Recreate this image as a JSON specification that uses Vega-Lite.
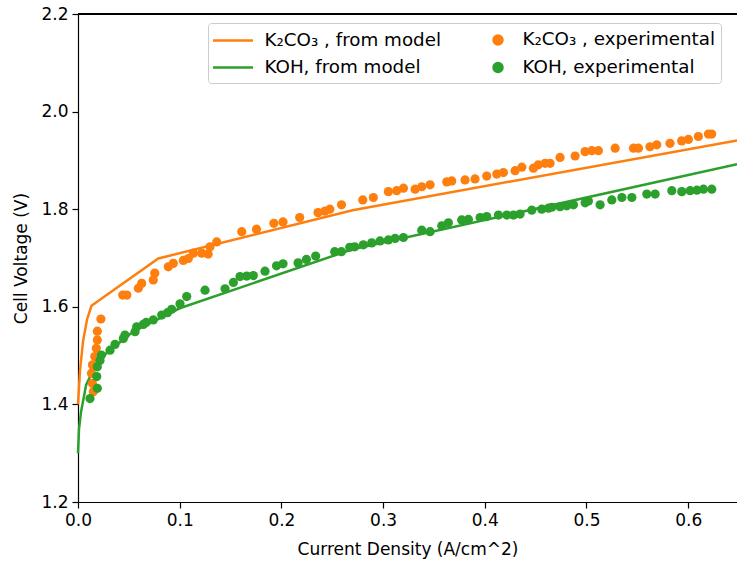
{
  "$schema": "https://vega.github.io/schema/vega-lite/v6.json",
  "width": 659,
  "height": 488,
  "autosize": {"type": "none"},
  "padding": {"left": 78, "top": 14, "right": 0, "bottom": 59},
  "background": "white",
  "config": {
    "font": "DejaVu Sans",
    "view": {"stroke": null},
    "axis": {
      "grid": false,
      "domainColor": "black",
      "domainWidth": 1.2,
      "tickColor": "black",
      "tickWidth": 1.2,
      "tickSize": 6,
      "labelFont": "DejaVu Sans",
      "labelFontSize": 17,
      "labelColor": "black",
      "labelPadding": 4,
      "labelFlush": false,
      "labelOverlap": false,
      "titleFont": "DejaVu Sans",
      "titleFontSize": 17,
      "titleFontWeight": "normal",
      "titleColor": "black"
    }
  },
  "data": {
    "values": [
      {"series": "K₂CO₃ , from model", "kind": "model", "x": 0.0, "y": 1.40},
      {"series": "K₂CO₃ , from model", "kind": "model", "x": 0.002, "y": 1.47},
      {"series": "K₂CO₃ , from model", "kind": "model", "x": 0.005, "y": 1.53},
      {"series": "K₂CO₃ , from model", "kind": "model", "x": 0.009, "y": 1.575},
      {"series": "K₂CO₃ , from model", "kind": "model", "x": 0.0132, "y": 1.602},
      {"series": "K₂CO₃ , from model", "kind": "model", "x": 0.079, "y": 1.699},
      {"series": "K₂CO₃ , from model", "kind": "model", "x": 0.27, "y": 1.798},
      {"series": "K₂CO₃ , from model", "kind": "model", "x": 0.648, "y": 1.941},
      {"series": "KOH, from model", "kind": "model", "x": 0.0, "y": 1.30},
      {"series": "KOH, from model", "kind": "model", "x": 0.001, "y": 1.35},
      {"series": "KOH, from model", "kind": "model", "x": 0.003, "y": 1.385},
      {"series": "KOH, from model", "kind": "model", "x": 0.008, "y": 1.44},
      {"series": "KOH, from model", "kind": "model", "x": 0.016, "y": 1.475},
      {"series": "KOH, from model", "kind": "model", "x": 0.028, "y": 1.505},
      {"series": "KOH, from model", "kind": "model", "x": 0.054, "y": 1.549},
      {"series": "KOH, from model", "kind": "model", "x": 0.1, "y": 1.597},
      {"series": "KOH, from model", "kind": "model", "x": 0.27, "y": 1.718},
      {"series": "KOH, from model", "kind": "model", "x": 0.648, "y": 1.892},

      {"series": "K₂CO₃ , experimental", "kind": "exp", "x": 0.0132, "y": 1.464},
      {"series": "K₂CO₃ , experimental", "kind": "exp", "x": 0.0142, "y": 1.481},
      {"series": "K₂CO₃ , experimental", "kind": "exp", "x": 0.0150, "y": 1.426},
      {"series": "K₂CO₃ , experimental", "kind": "exp", "x": 0.0142, "y": 1.443},
      {"series": "K₂CO₃ , experimental", "kind": "exp", "x": 0.0165, "y": 1.498},
      {"series": "K₂CO₃ , experimental", "kind": "exp", "x": 0.0180, "y": 1.515},
      {"series": "K₂CO₃ , experimental", "kind": "exp", "x": 0.0190, "y": 1.532},
      {"series": "K₂CO₃ , experimental", "kind": "exp", "x": 0.0190, "y": 1.550},
      {"series": "K₂CO₃ , experimental", "kind": "exp", "x": 0.0225, "y": 1.575},
      {"series": "K₂CO₃ , experimental", "kind": "exp", "x": 0.0440, "y": 1.624},
      {"series": "K₂CO₃ , experimental", "kind": "exp", "x": 0.0480, "y": 1.624},
      {"series": "K₂CO₃ , experimental", "kind": "exp", "x": 0.0593, "y": 1.638},
      {"series": "K₂CO₃ , experimental", "kind": "exp", "x": 0.0626, "y": 1.648},
      {"series": "K₂CO₃ , experimental", "kind": "exp", "x": 0.0740, "y": 1.655},
      {"series": "K₂CO₃ , experimental", "kind": "exp", "x": 0.0755, "y": 1.669},
      {"series": "K₂CO₃ , experimental", "kind": "exp", "x": 0.0888, "y": 1.682},
      {"series": "K₂CO₃ , experimental", "kind": "exp", "x": 0.0937, "y": 1.689},
      {"series": "K₂CO₃ , experimental", "kind": "exp", "x": 0.1036, "y": 1.695},
      {"series": "K₂CO₃ , experimental", "kind": "exp", "x": 0.1085, "y": 1.699},
      {"series": "K₂CO₃ , experimental", "kind": "exp", "x": 0.1134, "y": 1.710},
      {"series": "K₂CO₃ , experimental", "kind": "exp", "x": 0.1216, "y": 1.710},
      {"series": "K₂CO₃ , experimental", "kind": "exp", "x": 0.1280, "y": 1.708},
      {"series": "K₂CO₃ , experimental", "kind": "exp", "x": 0.1298, "y": 1.723},
      {"series": "K₂CO₃ , experimental", "kind": "exp", "x": 0.1364, "y": 1.733},
      {"series": "K₂CO₃ , experimental", "kind": "exp", "x": 0.1610, "y": 1.754},
      {"series": "K₂CO₃ , experimental", "kind": "exp", "x": 0.1755, "y": 1.759},
      {"series": "K₂CO₃ , experimental", "kind": "exp", "x": 0.1926, "y": 1.771},
      {"series": "K₂CO₃ , experimental", "kind": "exp", "x": 0.2016, "y": 1.774},
      {"series": "K₂CO₃ , experimental", "kind": "exp", "x": 0.2180, "y": 1.783},
      {"series": "K₂CO₃ , experimental", "kind": "exp", "x": 0.2360, "y": 1.793},
      {"series": "K₂CO₃ , experimental", "kind": "exp", "x": 0.2427, "y": 1.796},
      {"series": "K₂CO₃ , experimental", "kind": "exp", "x": 0.2476, "y": 1.800},
      {"series": "K₂CO₃ , experimental", "kind": "exp", "x": 0.2591, "y": 1.809},
      {"series": "K₂CO₃ , experimental", "kind": "exp", "x": 0.2800, "y": 1.819},
      {"series": "K₂CO₃ , experimental", "kind": "exp", "x": 0.2904, "y": 1.824},
      {"series": "K₂CO₃ , experimental", "kind": "exp", "x": 0.3052, "y": 1.836},
      {"series": "K₂CO₃ , experimental", "kind": "exp", "x": 0.3134, "y": 1.838},
      {"series": "K₂CO₃ , experimental", "kind": "exp", "x": 0.3200, "y": 1.843},
      {"series": "K₂CO₃ , experimental", "kind": "exp", "x": 0.3315, "y": 1.841},
      {"series": "K₂CO₃ , experimental", "kind": "exp", "x": 0.3380, "y": 1.846},
      {"series": "K₂CO₃ , experimental", "kind": "exp", "x": 0.3462, "y": 1.850},
      {"series": "K₂CO₃ , experimental", "kind": "exp", "x": 0.3626, "y": 1.856},
      {"series": "K₂CO₃ , experimental", "kind": "exp", "x": 0.3675, "y": 1.858},
      {"series": "K₂CO₃ , experimental", "kind": "exp", "x": 0.3806, "y": 1.860},
      {"series": "K₂CO₃ , experimental", "kind": "exp", "x": 0.3904, "y": 1.862},
      {"series": "K₂CO₃ , experimental", "kind": "exp", "x": 0.4019, "y": 1.868},
      {"series": "K₂CO₃ , experimental", "kind": "exp", "x": 0.4118, "y": 1.872},
      {"series": "K₂CO₃ , experimental", "kind": "exp", "x": 0.4183, "y": 1.875},
      {"series": "K₂CO₃ , experimental", "kind": "exp", "x": 0.4298, "y": 1.879},
      {"series": "K₂CO₃ , experimental", "kind": "exp", "x": 0.4364, "y": 1.886},
      {"series": "K₂CO₃ , experimental", "kind": "exp", "x": 0.4478, "y": 1.884},
      {"series": "K₂CO₃ , experimental", "kind": "exp", "x": 0.4527, "y": 1.891},
      {"series": "K₂CO₃ , experimental", "kind": "exp", "x": 0.4593, "y": 1.894},
      {"series": "K₂CO₃ , experimental", "kind": "exp", "x": 0.4642, "y": 1.894},
      {"series": "K₂CO₃ , experimental", "kind": "exp", "x": 0.4740, "y": 1.906},
      {"series": "K₂CO₃ , experimental", "kind": "exp", "x": 0.4888, "y": 1.909},
      {"series": "K₂CO₃ , experimental", "kind": "exp", "x": 0.4986, "y": 1.918},
      {"series": "K₂CO₃ , experimental", "kind": "exp", "x": 0.5052, "y": 1.920},
      {"series": "K₂CO₃ , experimental", "kind": "exp", "x": 0.5117, "y": 1.920},
      {"series": "K₂CO₃ , experimental", "kind": "exp", "x": 0.5282, "y": 1.925},
      {"series": "K₂CO₃ , experimental", "kind": "exp", "x": 0.5462, "y": 1.925},
      {"series": "K₂CO₃ , experimental", "kind": "exp", "x": 0.5511, "y": 1.925},
      {"series": "K₂CO₃ , experimental", "kind": "exp", "x": 0.5624, "y": 1.928},
      {"series": "K₂CO₃ , experimental", "kind": "exp", "x": 0.5691, "y": 1.932},
      {"series": "K₂CO₃ , experimental", "kind": "exp", "x": 0.5821, "y": 1.935},
      {"series": "K₂CO₃ , experimental", "kind": "exp", "x": 0.5936, "y": 1.940},
      {"series": "K₂CO₃ , experimental", "kind": "exp", "x": 0.6002, "y": 1.943},
      {"series": "K₂CO₃ , experimental", "kind": "exp", "x": 0.6100, "y": 1.949},
      {"series": "K₂CO₃ , experimental", "kind": "exp", "x": 0.6199, "y": 1.954},
      {"series": "K₂CO₃ , experimental", "kind": "exp", "x": 0.6231, "y": 1.954},

      {"series": "KOH, experimental", "kind": "exp", "x": 0.0118, "y": 1.412},
      {"series": "KOH, experimental", "kind": "exp", "x": 0.0190, "y": 1.433},
      {"series": "KOH, experimental", "kind": "exp", "x": 0.0184, "y": 1.457},
      {"series": "KOH, experimental", "kind": "exp", "x": 0.0190, "y": 1.477},
      {"series": "KOH, experimental", "kind": "exp", "x": 0.0216, "y": 1.490},
      {"series": "KOH, experimental", "kind": "exp", "x": 0.0230, "y": 1.501},
      {"series": "KOH, experimental", "kind": "exp", "x": 0.0315, "y": 1.511},
      {"series": "KOH, experimental", "kind": "exp", "x": 0.0364, "y": 1.523},
      {"series": "KOH, experimental", "kind": "exp", "x": 0.0446, "y": 1.535},
      {"series": "KOH, experimental", "kind": "exp", "x": 0.0462, "y": 1.542},
      {"series": "KOH, experimental", "kind": "exp", "x": 0.0561, "y": 1.549},
      {"series": "KOH, experimental", "kind": "exp", "x": 0.0577, "y": 1.559},
      {"series": "KOH, experimental", "kind": "exp", "x": 0.0643, "y": 1.564},
      {"series": "KOH, experimental", "kind": "exp", "x": 0.0670, "y": 1.568},
      {"series": "KOH, experimental", "kind": "exp", "x": 0.0740, "y": 1.573},
      {"series": "KOH, experimental", "kind": "exp", "x": 0.0823, "y": 1.583},
      {"series": "KOH, experimental", "kind": "exp", "x": 0.0880, "y": 1.588},
      {"series": "KOH, experimental", "kind": "exp", "x": 0.0921, "y": 1.595},
      {"series": "KOH, experimental", "kind": "exp", "x": 0.1003, "y": 1.606},
      {"series": "KOH, experimental", "kind": "exp", "x": 0.1069, "y": 1.621},
      {"series": "KOH, experimental", "kind": "exp", "x": 0.1249, "y": 1.634},
      {"series": "KOH, experimental", "kind": "exp", "x": 0.1446, "y": 1.637},
      {"series": "KOH, experimental", "kind": "exp", "x": 0.1528, "y": 1.650},
      {"series": "KOH, experimental", "kind": "exp", "x": 0.1593, "y": 1.662},
      {"series": "KOH, experimental", "kind": "exp", "x": 0.1659, "y": 1.663},
      {"series": "KOH, experimental", "kind": "exp", "x": 0.1724, "y": 1.664},
      {"series": "KOH, experimental", "kind": "exp", "x": 0.1839, "y": 1.673},
      {"series": "KOH, experimental", "kind": "exp", "x": 0.1952, "y": 1.684},
      {"series": "KOH, experimental", "kind": "exp", "x": 0.2016, "y": 1.688},
      {"series": "KOH, experimental", "kind": "exp", "x": 0.2164, "y": 1.690},
      {"series": "KOH, experimental", "kind": "exp", "x": 0.2246, "y": 1.697},
      {"series": "KOH, experimental", "kind": "exp", "x": 0.2337, "y": 1.704},
      {"series": "KOH, experimental", "kind": "exp", "x": 0.2524, "y": 1.713},
      {"series": "KOH, experimental", "kind": "exp", "x": 0.2590, "y": 1.713},
      {"series": "KOH, experimental", "kind": "exp", "x": 0.2672, "y": 1.722},
      {"series": "KOH, experimental", "kind": "exp", "x": 0.2721, "y": 1.723},
      {"series": "KOH, experimental", "kind": "exp", "x": 0.2806, "y": 1.727},
      {"series": "KOH, experimental", "kind": "exp", "x": 0.2888, "y": 1.731},
      {"series": "KOH, experimental", "kind": "exp", "x": 0.2970, "y": 1.735},
      {"series": "KOH, experimental", "kind": "exp", "x": 0.3052, "y": 1.737},
      {"series": "KOH, experimental", "kind": "exp", "x": 0.3118, "y": 1.740},
      {"series": "KOH, experimental", "kind": "exp", "x": 0.3200, "y": 1.742},
      {"series": "KOH, experimental", "kind": "exp", "x": 0.3380, "y": 1.757},
      {"series": "KOH, experimental", "kind": "exp", "x": 0.3462, "y": 1.754},
      {"series": "KOH, experimental", "kind": "exp", "x": 0.3577, "y": 1.766},
      {"series": "KOH, experimental", "kind": "exp", "x": 0.3642, "y": 1.772},
      {"series": "KOH, experimental", "kind": "exp", "x": 0.3773, "y": 1.778},
      {"series": "KOH, experimental", "kind": "exp", "x": 0.3839, "y": 1.779},
      {"series": "KOH, experimental", "kind": "exp", "x": 0.3954, "y": 1.783},
      {"series": "KOH, experimental", "kind": "exp", "x": 0.4019, "y": 1.785},
      {"series": "KOH, experimental", "kind": "exp", "x": 0.4134, "y": 1.788},
      {"series": "KOH, experimental", "kind": "exp", "x": 0.4216, "y": 1.788},
      {"series": "KOH, experimental", "kind": "exp", "x": 0.4282, "y": 1.788},
      {"series": "KOH, experimental", "kind": "exp", "x": 0.4347, "y": 1.790},
      {"series": "KOH, experimental", "kind": "exp", "x": 0.4462, "y": 1.798},
      {"series": "KOH, experimental", "kind": "exp", "x": 0.4560, "y": 1.800},
      {"series": "KOH, experimental", "kind": "exp", "x": 0.4626, "y": 1.802},
      {"series": "KOH, experimental", "kind": "exp", "x": 0.4659, "y": 1.804},
      {"series": "KOH, experimental", "kind": "exp", "x": 0.4740, "y": 1.805},
      {"series": "KOH, experimental", "kind": "exp", "x": 0.4806, "y": 1.807},
      {"series": "KOH, experimental", "kind": "exp", "x": 0.4872, "y": 1.809},
      {"series": "KOH, experimental", "kind": "exp", "x": 0.4987, "y": 1.813},
      {"series": "KOH, experimental", "kind": "exp", "x": 0.5019, "y": 1.817},
      {"series": "KOH, experimental", "kind": "exp", "x": 0.5134, "y": 1.809},
      {"series": "KOH, experimental", "kind": "exp", "x": 0.5249, "y": 1.819},
      {"series": "KOH, experimental", "kind": "exp", "x": 0.5348, "y": 1.824},
      {"series": "KOH, experimental", "kind": "exp", "x": 0.5446, "y": 1.824},
      {"series": "KOH, experimental", "kind": "exp", "x": 0.5593, "y": 1.831},
      {"series": "KOH, experimental", "kind": "exp", "x": 0.5675, "y": 1.831},
      {"series": "KOH, experimental", "kind": "exp", "x": 0.5839, "y": 1.838},
      {"series": "KOH, experimental", "kind": "exp", "x": 0.5937, "y": 1.836},
      {"series": "KOH, experimental", "kind": "exp", "x": 0.6019, "y": 1.838},
      {"series": "KOH, experimental", "kind": "exp", "x": 0.6085, "y": 1.839},
      {"series": "KOH, experimental", "kind": "exp", "x": 0.6150, "y": 1.841},
      {"series": "KOH, experimental", "kind": "exp", "x": 0.6232, "y": 1.841}
    ]
  },
  "layer": [
    {
      "transform": [{"filter": "datum.kind == 'model'"}],
      "mark": {"type": "line", "strokeWidth": 2.5},
      "encoding": {
        "x": {
          "field": "x", "type": "quantitative",
          "scale": {"domain": [0, 0.648], "nice": false, "zero": false},
          "axis": {"orient": "bottom", "values": [0, 0.1, 0.2, 0.3, 0.4, 0.5, 0.6], "format": ".1f", "title": "Current Density (A/cm^2)", "titlePadding": 13}
        },
        "y": {
          "field": "y", "type": "quantitative",
          "scale": {"domain": [1.2, 2.2], "nice": false, "zero": false},
          "axis": {"orient": "left", "values": [1.2, 1.4, 1.6, 1.8, 2.0, 2.2], "format": ".1f", "title": "Cell Voltage (V)", "titlePadding": 10}
        },
        "color": {
          "field": "series", "type": "nominal",
          "scale": {
            "domain": ["K₂CO₃ , from model", "KOH, from model", "K₂CO₃ , experimental", "KOH, experimental"],
            "range": ["#ff7f0e", "#2ca02c", "#ff7f0e", "#2ca02c"]
          },
          "legend": {
            "title": null,
            "orient": "none",
            "legendX": 130,
            "legendY": 9,
            "columns": 2,
            "padding": 5,
            "rowPadding": 6,
            "columnPadding": 29,
            "labelOffset": 20,
            "symbolOffset": 8.5,
            "symbolSize": 400,
            "symbolStrokeWidth": 2.5,
            "labelFont": "DejaVu Sans",
            "labelFontSize": 18.3,
            "labelColor": "black",
            "labelLimit": 400,
            "fillColor": "rgba(255,255,255,0.8)",
            "strokeColor": "#cccccc",
            "cornerRadius": 3,
            "encode": {
              "symbols": {
                "update": {
                  "shape": {"signal": "indexof(datum.value, 'model') >= 0 ? 'M -2,0 H 2' : 'M 0.25,0 A 0.45,0.45 0 1,0 1.15,0 A 0.45,0.45 0 1,0 0.25,0 Z'"},
                  "fill": {"signal": "indexof(datum.value, 'model') >= 0 ? 'transparent' : (indexof(datum.value, 'KOH') >= 0 ? '#2ca02c' : '#ff7f0e')"},
                  "stroke": {"signal": "indexof(datum.value, 'model') >= 0 ? (indexof(datum.value, 'KOH') >= 0 ? '#2ca02c' : '#ff7f0e') : 'transparent'"},
                  "opacity": {"value": 1}
                }
              }
            }
          }
        }
      }
    },
    {
      "transform": [{"filter": "datum.kind == 'exp'"}],
      "mark": {"type": "point", "filled": true, "size": 85, "opacity": 1},
      "encoding": {
        "x": {"field": "x", "type": "quantitative"},
        "y": {"field": "y", "type": "quantitative"},
        "color": {"field": "series", "type": "nominal"}
      }
    },
    {
      "mark": {"type": "rule", "color": "black", "strokeWidth": 1.2},
      "encoding": {"y": {"datum": 2.2, "type": "quantitative"}}
    }
  ]
}
